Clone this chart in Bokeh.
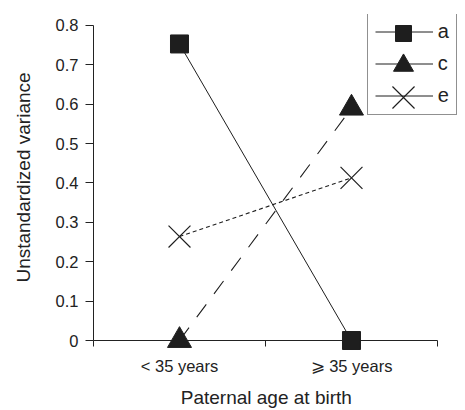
from bokeh.plotting import figure
from bokeh.models import Range1d, FixedTicker, Legend, LegendItem
from bokeh.embed import file_html
from bokeh.resources import INLINE

# ---- data ----
categories = ["< 35 years", "\u2a7e 35 years"]
series_a = [0.753, 0.0]
series_c = [0.0, 0.59]
series_e = [0.264, 0.413]
y_ticks = [0, 0.1, 0.2, 0.3, 0.4, 0.5, 0.6, 0.7, 0.8]
y_tick_labels = ["0", "0.1", "0.2", "0.3", "0.4", "0.5", "0.6", "0.7", "0.8"]
x_edges = [0, 1, 2]
series_names = ["a", "c", "e"]
x_title = "Paternal age at birth"
y_title = "Unstandardized variance"

xs = [i + 0.5 for i in range(len(categories))]

FONT = "Liberation Sans"
INK = "#1e1e1e"
TXT = "#222222"

p = figure(width=465, height=410, output_backend="svg", toolbar_location=None,
           title=None,
           x_range=Range1d(0, 2.1628), y_range=Range1d(0, 0.8278),
           min_border_left=93, min_border_right=0, min_border_top=14,
           min_border_bottom=69)
p.outline_line_color = None
p.grid.visible = False
p.background_fill_color = "white"
p.border_fill_color = "white"

# lines
la = p.line(xs, series_a, line_color=INK, line_width=1)
p.line(xs, series_c, line_color=INK, line_width=1.1, line_dash="16 13")
p.line(xs, series_e, line_color=INK, line_width=1.1, line_dash="4 3")

# markers (overlay level so the ones on the baseline are not cut)
sa = p.scatter(xs, series_a, marker="square", size=18, fill_color=INK, line_color=INK,
               line_width=1, level="overlay")
sc = p.scatter(xs, series_c, marker="triangle", size=24, fill_color=INK, line_color=INK,
               line_width=1, level="overlay")
se = p.scatter(xs, series_e, marker="x", size=31, line_color=INK, line_width=1.2,
               level="overlay")

# x axis
xa = p.xaxis[0]
xa.bounds = (x_edges[0], x_edges[-1])
xa.ticker = FixedTicker(ticks=xs, minor_ticks=x_edges)
xa.major_label_overrides = {x: c for x, c in zip(xs, categories)}
xa.major_tick_out = 0
xa.major_tick_in = 0
xa.minor_tick_out = 6
xa.minor_tick_in = 0
xa.minor_tick_line_color = TXT
xa.axis_line_color = TXT
xa.major_label_standoff = 10
xa.major_label_text_font_size = "16.5px"
xa.major_label_text_font = FONT
xa.major_label_text_color = TXT
# trailing no-break spaces move the centred title over the axis (0..2) centre
xa.axis_label = x_title + "\u00a0" * 5
xa.axis_label_text_font_size = "19px"
xa.axis_label_text_font_style = "normal"
xa.axis_label_text_font = FONT
xa.axis_label_text_color = TXT
xa.axis_label_standoff = 9

# y axis
ya = p.yaxis[0]
ya.bounds = (y_ticks[0], y_ticks[-1])
ya.ticker = FixedTicker(ticks=y_ticks, minor_ticks=[])
ya.major_label_overrides = {t: l for t, l in zip(y_ticks, y_tick_labels)}
ya.major_tick_out = 8
ya.major_tick_in = 0
ya.minor_tick_out = 0
ya.major_tick_line_color = TXT
ya.axis_line_color = TXT
ya.major_label_standoff = 7
ya.major_label_text_font_size = "16.5px"
ya.major_label_text_font = FONT
ya.major_label_text_color = TXT
ya.axis_label = y_title
ya.axis_label_text_font_size = "19px"
ya.axis_label_text_font_style = "normal"
ya.axis_label_text_font = FONT
ya.axis_label_text_color = TXT
ya.axis_label_standoff = 19

FRAME_L, FRAME_B = 93, 341
LEG_L = 366.7
GW = 58

# legend box with solid lines and labels
leg1 = Legend(items=[LegendItem(label=n, renderers=[la]) for n in series_names],
              location=(LEG_L - FRAME_L, FRAME_B - 116), padding=7, spacing=9,
              glyph_width=GW, glyph_height=23, label_height=23, label_width=10,
              label_standoff=5, label_text_font_size="20px", label_text_font=FONT,
              label_text_color=TXT, border_line_color=TXT, border_line_width=1,
              background_fill_color="white", background_fill_alpha=1.0, margin=0)
p.add_layout(leg1)

# one marker-only legend per series, centred on the legend lines
row_centers = [33.5, 65.5, 97.5]
marker_glyph = [40, 50, 78]
cx = LEG_L + 7 + GW / 2
for r, cy, g in zip((sa, sc, se), row_centers, marker_glyph):
    lg = Legend(items=[LegendItem(label=" ", renderers=[r])],
                location=(cx - g / 2 - FRAME_L, FRAME_B - (cy + g / 2)),
                padding=0, spacing=0, glyph_width=g, glyph_height=g,
                label_height=0, label_width=0, label_standoff=0,
                label_text_font_size="1px", border_line_color=None,
                background_fill_color=None, margin=0)
    p.add_layout(lg)

open("out.html", "w").write(file_html(p, INLINE))
